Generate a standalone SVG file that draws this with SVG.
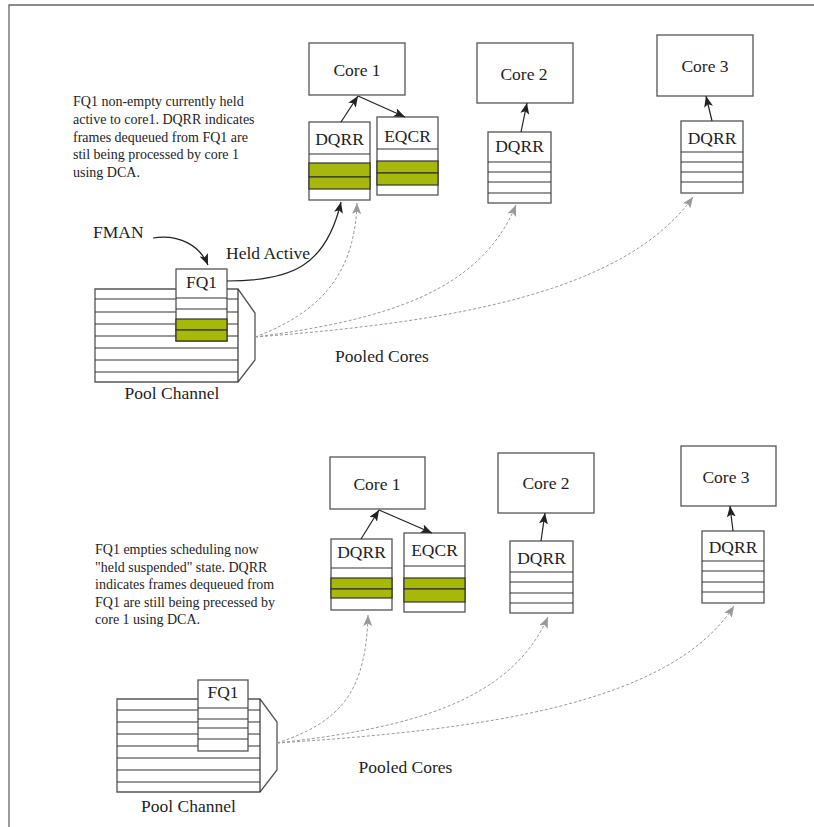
<svg xmlns="http://www.w3.org/2000/svg" width="814" height="827" viewBox="0 0 814 827" font-family="'Liberation Serif', 'Times New Roman', serif">
<defs>
<style>
text{font-family:"Liberation Serif","Times New Roman",serif}
.bx{fill:#fff;stroke:#555;stroke-width:1.3}
.ln{stroke:#333;stroke-width:1.2;fill:none}
.gr{fill:#a6b90b;stroke:#333;stroke-width:1.2}
.t{font-size:17.5px;fill:#1e1e1e}
.tc{text-anchor:middle}
.d{font-size:14px;fill:#1e1e1e}
.blk{stroke:#222;stroke-width:1.2;fill:none;marker-end:url(#ab)}
.gry{stroke:#999;stroke-width:1;fill:none;stroke-dasharray:3,2;marker-end:url(#ag)}
</style>
<marker id="ab" markerUnits="userSpaceOnUse" markerWidth="12" markerHeight="10" refX="11" refY="4.5" orient="auto"><path d="M0,0 L11,4.5 L0,9 L2.5,4.5 z" fill="#222"/></marker>
<marker id="ag" markerUnits="userSpaceOnUse" markerWidth="12" markerHeight="10" refX="11" refY="4.5" orient="auto"><path d="M0,0 L11,4.5 L0,9 L2.5,4.5 z" fill="#999"/></marker>
</defs>
<rect width="814" height="827" fill="#fff"/>
<path d="M9,827 L9,5 L814,5" fill="none" stroke="#666" stroke-width="1.3"/>

<!-- ===== Upper section ===== -->
<g id="desc1">
<text class="d" x="73" y="106">FQ1 non-empty currently held</text>
<text class="d" x="73" y="124">active to core1. DQRR indicates</text>
<text class="d" x="73" y="141.5">frames dequeued from FQ1 are</text>
<text class="d" x="73" y="159">stil being processed by core 1</text>
<text class="d" x="73" y="177">using DCA.</text>
</g>
<g id="core1-a"><rect class="bx" x="309" y="43" width="96" height="52"/><text class="t tc" x="357" y="76">Core 1</text></g>
<g id="dqrr1-a">
<rect class="bx" x="309" y="122" width="61" height="78"/>
<rect class="gr" x="309" y="163" width="61" height="14"/>
<rect class="gr" x="309" y="177" width="61" height="12"/>
<path class="ln" d="M309,154 H370"/>
<text class="t tc" x="339.5" y="145">DQRR</text>
</g>
<g id="eqcr1-a">
<rect class="bx" x="377" y="117" width="61" height="78"/>
<rect class="gr" x="377" y="161" width="61" height="12"/>
<rect class="gr" x="377" y="173" width="61" height="12"/>
<path class="ln" d="M377,149 H438"/>
<text class="t tc" x="407.5" y="142">EQCR</text>
</g>
<g id="core2-a"><rect class="bx" x="477" y="43" width="96" height="60"/><text class="t tc" x="524" y="80">Core 2</text></g>
<g id="dqrr2-a">
<rect class="bx" x="488" y="132" width="63" height="71"/>
<path class="ln" d="M488,162 H551 M488,172 H551 M488,182 H551 M488,193 H551"/>
<text class="t tc" x="519.5" y="152">DQRR</text>
</g>
<g id="core3-a"><rect class="bx" x="657" y="35" width="96" height="61"/><text class="t tc" x="705" y="72">Core 3</text></g>
<g id="dqrr3-a">
<rect class="bx" x="681" y="121" width="62" height="72"/>
<path class="ln" d="M681,152 H743 M681,162 H743 M681,172 H743 M681,182 H743"/>
<text class="t tc" x="712" y="144">DQRR</text>
</g>
<g id="pool-a">
<path class="bx" d="M95,289 H238 L255,313 V360 L238,382 H95 Z"/>
<path class="ln" d="M238,289 V382"/>
<path class="ln" d="M95,299 H238 M95,312 H238 M95,324 H238 M95,336 H238 M95,348 H238 M95,360 H238 M95,372 H238"/>
<text class="t tc" x="172" y="399">Pool Channel</text>
</g>
<g id="fq1-a">
<rect class="bx" x="176" y="269" width="51" height="72"/>
<rect class="gr" x="176" y="319" width="51" height="11"/>
<rect class="gr" x="176" y="330" width="51" height="11"/>
<path class="ln" d="M176,298 H227 M176,309 H227"/>
<text class="t tc" x="201.5" y="288">FQ1</text>
</g>
<g id="labels-a">
<text class="t" x="93" y="238">FMAN</text>
<text class="t" x="226" y="259">Held Active</text>
<text class="t tc" x="382" y="362">Pooled Cores</text>
</g>

<!-- ===== Lower section ===== -->
<g id="desc2">
<text class="d" x="95" y="554">FQ1 empties scheduling now</text>
<text class="d" x="95" y="571.5">"held suspended" state. DQRR</text>
<text class="d" x="95" y="589">indicates frames dequeued from</text>
<text class="d" x="95" y="606.5">FQ1 are still being precessed by</text>
<text class="d" x="95" y="624">core 1 using DCA.</text>
</g>
<g id="core1-b"><rect class="bx" x="330" y="457" width="95" height="52"/><text class="t tc" x="377" y="490">Core 1</text></g>
<g id="dqrr1-b">
<rect class="bx" x="331" y="539" width="61" height="71"/>
<rect class="gr" x="331" y="578" width="61" height="11"/>
<rect class="gr" x="331" y="589" width="61" height="9"/>
<path class="ln" d="M331,568 H392"/>
<text class="t tc" x="361.5" y="558">DQRR</text>
</g>
<g id="eqcr1-b">
<rect class="bx" x="404" y="533" width="61" height="79"/>
<rect class="gr" x="404" y="578" width="61" height="11"/>
<rect class="gr" x="404" y="589" width="61" height="13"/>
<path class="ln" d="M404,566 H465"/>
<text class="t tc" x="434.5" y="556">EQCR</text>
</g>
<g id="core2-b"><rect class="bx" x="498" y="453" width="96" height="60"/><text class="t tc" x="546" y="489">Core 2</text></g>
<g id="dqrr2-b">
<rect class="bx" x="510" y="541" width="63" height="72"/>
<path class="ln" d="M510,572 H573 M510,582 H573 M510,593 H573 M510,603 H573"/>
<text class="t tc" x="541.5" y="564">DQRR</text>
</g>
<g id="core3-b"><rect class="bx" x="681" y="446" width="95" height="60"/><text class="t tc" x="726" y="483">Core 3</text></g>
<g id="dqrr3-b">
<rect class="bx" x="702" y="531" width="62" height="72"/>
<path class="ln" d="M702,561 H764 M702,571 H764 M702,582 H764 M702,592 H764"/>
<text class="t tc" x="733" y="553">DQRR</text>
</g>
<g id="pool-b">
<path class="bx" d="M117,699 H260 L277,722 V770 L260,792 H117 Z"/>
<path class="ln" d="M260,699 V792"/>
<path class="ln" d="M117,710 H260 M117,722 H260 M117,734 H260 M117,746 H260 M117,758 H260 M117,770 H260 M117,782 H260"/>
<text class="t tc" x="188.5" y="812">Pool Channel</text>
</g>
<g id="fq1-b">
<rect class="bx" x="198" y="680" width="50" height="71"/>
<path class="ln" d="M198,708 H248 M198,719 H248 M198,728 H248 M198,739 H248"/>
<text class="t tc" x="223" y="698">FQ1</text>
</g>
<g id="labels-b">
<text class="t tc" x="405.5" y="773">Pooled Cores</text>
</g>

<!-- ===== Connectors ===== -->
<g id="connectors">
<path class="blk" d="M153,238 C180,234 200,246 208,265"/>
<path class="blk" d="M227,281 C292,281 326,266 341,202"/>
<path class="blk" d="M341,122 L358,96"/>
<path class="blk" d="M358,96 L405,117"/>
<path class="blk" d="M521,132 L527,103"/>
<path class="blk" d="M712,121 L706,96"/>
<path class="gry" d="M255,337 C322,312 355,272 357,203"/>
<path class="gry" d="M255,337 C385,320 480,292 516,205"/>
<path class="gry" d="M255,337 C455,322 625,292 693,197"/>

<path class="blk" d="M361,539 L379,510"/>
<path class="blk" d="M379,510 L432,533"/>
<path class="blk" d="M541,541 L545,513"/>
<path class="blk" d="M733,531 L730,506"/>
<path class="gry" d="M277,743 C342,722 366,690 368,615"/>
<path class="gry" d="M277,743 C410,728 510,702 548,617"/>
<path class="gry" d="M277,743 C480,730 670,705 734,606"/>
</g>
</svg>
